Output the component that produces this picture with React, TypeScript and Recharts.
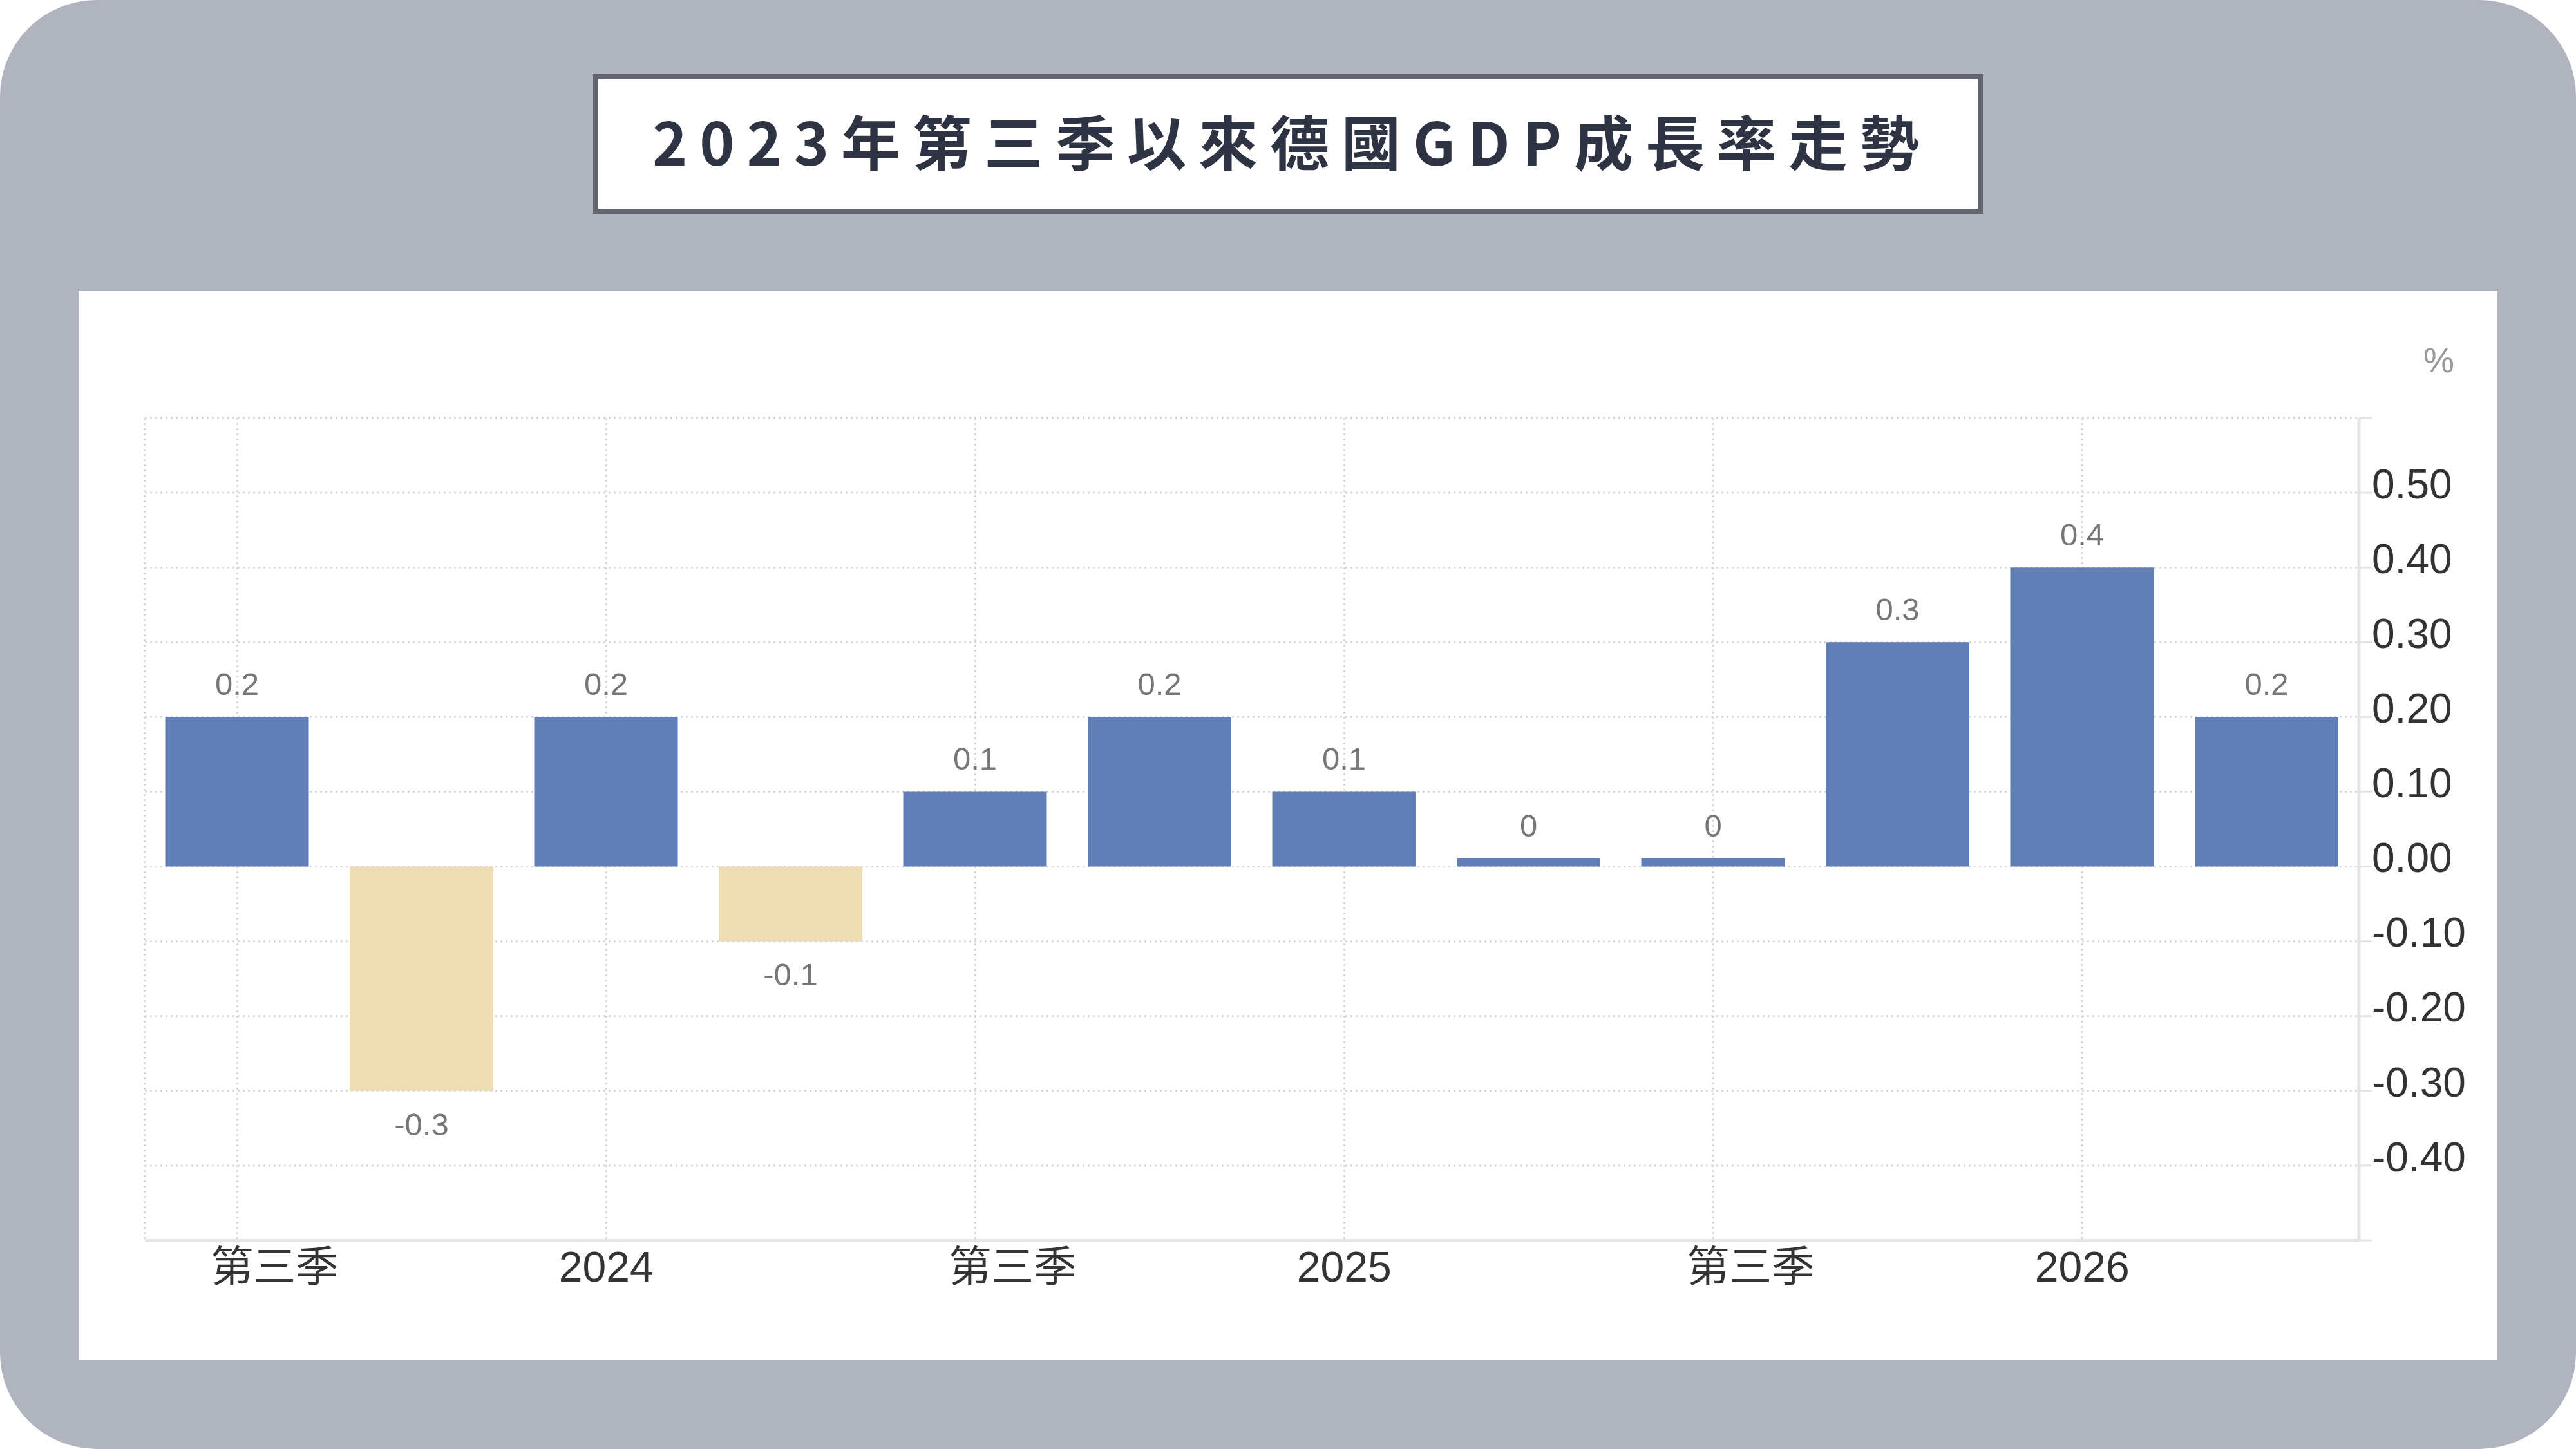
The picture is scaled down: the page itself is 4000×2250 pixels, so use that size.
import React from 'react';
import { BarChart, Bar, Cell, XAxis, YAxis, CartesianGrid, LabelList } from 'recharts';

const quarters = [
  '2023Q3', '2023Q4', '2024Q1', '2024Q2', '2024Q3', '2024Q4',
  '2025Q1', '2025Q2', '2025Q3', '2025Q4', '2026Q1', '2026Q2'
];
const growth = [0.2, -0.3, 0.2, -0.1, 0.1, 0.2, 0.1, 0, 0, 0.3, 0.4, 0.2];
const yTicks = [-0.5, -0.4, -0.3, -0.2, -0.1, 0, 0.1, 0.2, 0.3, 0.4, 0.5, 0.6];
const q3Label = '第三季';

const data = quarters.map((q, i) => ({ quarter: q, value: growth[i] }));

const POS = '#5f7fb6';
const NEG = '#eddcb4';
const FONT = "'Liberation Sans', Arial, 'Noto Sans CJK TC', sans-serif";

function tickText(q: string) {
  if (q.endsWith('Q1')) return q.slice(0, 4);
  if (q.endsWith('Q3')) return q3Label;
  return '';
}

function XTick(props: any) {
  const { x, y, payload } = props;
  const label = tickText(payload.value);
  const isCjk = label === q3Label;
  return (
    <text
      x={x + (isCjk ? 58 : 0)}
      y={y}
      dy={58}
      textAnchor="middle"
      fill="#333"
      fontSize={isCjk ? 66 : 66}
      fontFamily={FONT}
    >
      {label}
    </text>
  );
}

export default function App() {
  return (
    <div style={{ position: 'absolute', left: 0, top: 0, width: 4000, height: 2250, background: '#fff' }}>
      <div style={{ position: 'absolute', inset: 0, background: '#b0b4be', borderRadius: 150 }} />
      <div
        style={{
          position: 'absolute',
          left: 921,
          top: 115,
          width: 2158,
          height: 217,
          boxSizing: 'border-box',
          border: '8px solid #63656f',
          background: '#fff',
          display: 'flex',
          alignItems: 'center',
          justifyContent: 'center',
          fontFamily: "'Noto Sans CJK TC', sans-serif",
          fontWeight: 700,
          fontSize: 92,
          letterSpacing: 19,
          color: '#2f3444',
          paddingLeft: 12,
          paddingBottom: 14
        }}
      >
        2023年第三季以來德國GDP成長率走勢
      </div>
      <div style={{ position: 'absolute', left: 122, top: 452, width: 3756, height: 1660, background: '#fff' }}>
        <div
          style={{
            position: 'absolute',
            left: 3641,
            top: 76,
            fontFamily: FONT,
            fontSize: 54,
            color: '#999'
          }}
        >
          %
        </div>
        <BarChart
          width={3756}
          height={1660}
          data={data}
          margin={{ top: 197, right: 0, bottom: 86, left: 103 }}
          barCategoryGap="11%"
        >
          <CartesianGrid stroke="#d8d8d8" strokeWidth={3} strokeDasharray="3 5" />
          <XAxis
            dataKey="quarter"
            interval={1}
            height={100}
            tickLine={false}
            tickSize={6}
            tickMargin={0}
            axisLine={{ stroke: '#e4e4e4', strokeWidth: 4 }}
            tick={<XTick />}
          />
          <YAxis
            yAxisId="edge"
            orientation="left"
            width={0}
            tick={false}
            tickLine={false}
            axisLine={{ stroke: '#e4e4e4', strokeWidth: 4 }}
          />
          <YAxis
            orientation="right"
            width={215}
            domain={[-0.5, 0.6]}
            ticks={yTicks}
            interval={0}
            tickSize={20}
            tickMargin={0}
            tickLine={{ stroke: '#e4e4e4', strokeWidth: 3 }}
            axisLine={{ stroke: '#e4e4e4', strokeWidth: 5 }}
            tick={{ fill: '#333', fontSize: 64, fontFamily: FONT, dy: -14 }}
            tickFormatter={(v: number) => (v === -0.5 || v === 0.6 ? '' : v.toFixed(2))}
          />
          <Bar dataKey="value" minPointSize={13} isAnimationActive={false}>
            {data.map((d) => (
              <Cell key={d.quarter} fill={d.value < 0 ? NEG : POS} />
            ))}
            <LabelList
              dataKey="value"
              position="top"
              offset={34}
              fill="#777"
              fontSize={49}
              fontFamily={FONT}
              formatter={(v: number) => String(Number(v.toFixed(1)))}
            />
          </Bar>
        </BarChart>
      </div>
    </div>
  );
}
